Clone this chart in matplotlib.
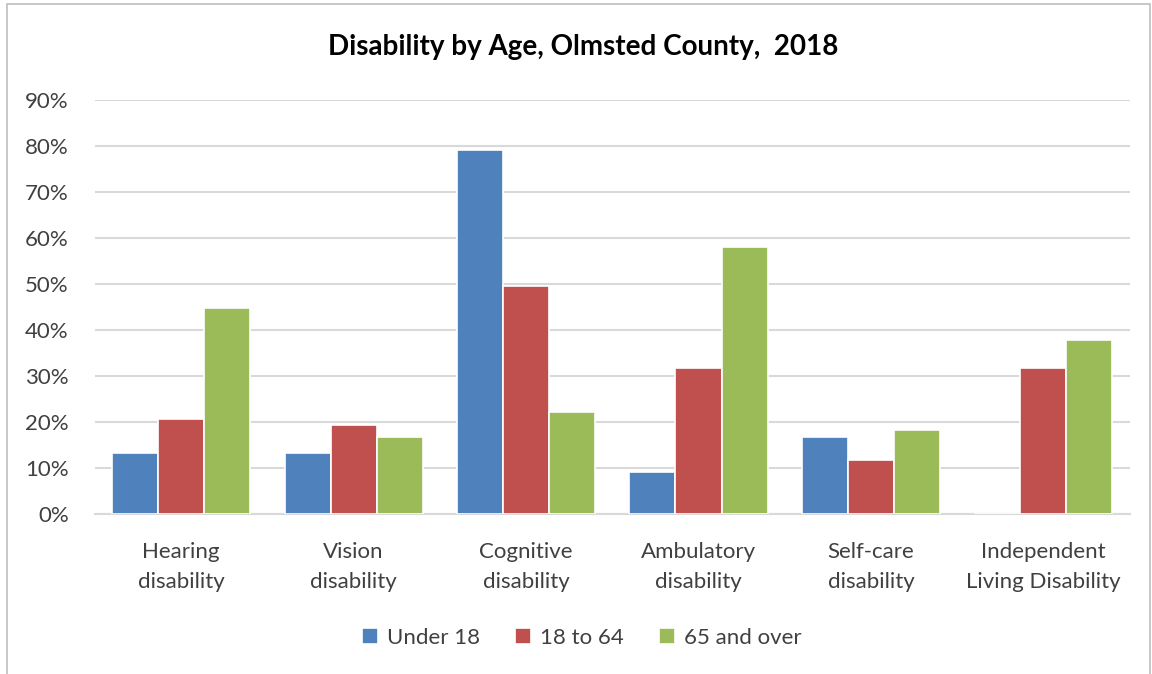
import matplotlib
matplotlib.use("Agg")
import matplotlib.pyplot as plt
import numpy as np
from matplotlib.patches import Rectangle

categories = ["Hearing\ndisability", "Vision\ndisability", "Cognitive\ndisability",
              "Ambulatory\ndisability", "Self-care\ndisability", "Independent\nLiving Disability"]
series_names = ["Under 18", "18 to 64", "65 and over"]
under18 = [0.134, 0.134, 0.791, 0.092, 0.167, 0.0]
age18_64 = [0.206, 0.193, 0.496, 0.317, 0.117, 0.317]
over65 = [0.448, 0.168, 0.223, 0.580, 0.184, 0.379]
yticks = [0, 0.1, 0.2, 0.3, 0.4, 0.5, 0.6, 0.7, 0.8, 0.9]
ytick_labels = ["0%", "10%", "20%", "30%", "40%", "50%", "60%", "70%", "80%", "90%"]
colors = ["#4F81BD", "#C0504D", "#9BBB59"]

plt.rcParams['font.family'] = ['Lato', 'DejaVu Sans']

fig = plt.figure(figsize=(11.52, 6.74), dpi=100)
ax = fig.add_axes([0.0825, 0.237, 0.898, 0.615])

x = np.arange(len(categories))
w = 0.267
for i, (vals, c, name) in enumerate(zip([under18, age18_64, over65], colors, series_names)):
    ax.bar(x + (i - 1) * w, vals, width=w, color=c, edgecolor="white", linewidth=1.2,
           label=name, zorder=3)

ax.set_xlim(-0.5, len(categories) - 0.5)
ax.set_ylim(0, 0.9)
ax.set_yticks(yticks)
ax.set_yticklabels(ytick_labels, fontsize=16, color="#404040")
ax.set_xticks(x)
ax.set_xticklabels(categories, fontsize=16, color="#404040", linespacing=1.6)
ax.tick_params(axis="both", length=0)
ax.tick_params(axis="y", pad=19)
ax.tick_params(axis="x", pad=20)
ax.grid(axis="y", color="#d9d9d9", linewidth=1.5, zorder=0)
for s in ["top", "right", "left"]:
    ax.spines[s].set_visible(False)
ax.spines["bottom"].set_color("#d9d9d9")
ax.spines["bottom"].set_linewidth(1.5)

fig.text(0.506, 0.93, "Disability by Age, Olmsted County,  2018", ha="center", va="center",
         fontsize=20, fontweight="bold", color="black")

leg = fig.legend(loc="center", bbox_to_anchor=(0.505, 0.054), ncol=3, frameon=False,
                 fontsize=16, handlelength=0.7, handleheight=0.7, columnspacing=1.6,
                 handletextpad=0.4)
for t in leg.get_texts():
    t.set_color("#404040")

fig.patches.append(Rectangle((7 / 1152, -0.01), (1150 - 7) / 1152, 1 - 4 / 674 + 0.01,
                             transform=fig.transFigure, fill=False,
                             edgecolor="#bfbfbf", linewidth=1.2))

fig.savefig("out.png", dpi=100, facecolor="white")
